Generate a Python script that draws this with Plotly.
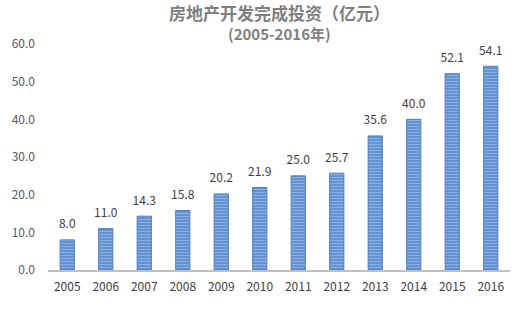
import plotly.graph_objects as go

years = ["2005", "2006", "2007", "2008", "2009", "2010", "2011", "2012", "2013", "2014", "2015", "2016"]
values = [8.0, 11.0, 14.3, 15.8, 20.2, 21.9, 25.0, 25.7, 35.6, 40.0, 52.1, 54.1]
y_ticks = [0, 10, 20, 30, 40, 50, 60]
title_main = "房地产开发完成投资（亿元）"
title_sub = "(2005-2016年)"

font_fam = "Noto Sans CJK SC, Liberation Sans, sans-serif"

fig = go.Figure()
fig.add_trace(go.Bar(
    x=years, y=values,
    marker=dict(
        color="#5a8bd0",
        line=dict(color="#4f7fc0", width=1),
        pattern=dict(shape="-", fgcolor="#c4d7f2", bgcolor="#5a8bd0", size=3, solidity=0.45, fillmode="overlay"),
    ),
    hoverinfo="skip",
))
fig.add_trace(go.Scatter(
    x=years, y=values, mode="markers+text",
    marker=dict(size=12, opacity=0),
    text=[f"{v:.1f}" for v in values],
    textposition="top center",
    textfont=dict(size=12, color="#404040", family=font_fam),
    cliponaxis=False,
    hoverinfo="skip",
))

fig.update_layout(
    width=522, height=323,
    margin=dict(l=48, r=12, t=44, b=53),
    paper_bgcolor="white", plot_bgcolor="white",
    bargap=0.63,
    showlegend=False,
    font=dict(family=font_fam, color="#595959"),
    annotations=[
        dict(text=f"<b>{title_main}</b>", x=0.5, y=1, xref="paper", yref="paper", yanchor="middle",
             xanchor="center", showarrow=False, font=dict(size=17, color="#7f7f7f"), yshift=32),
        dict(text=f"<b>{title_sub}</b>", x=0.5, y=1, xref="paper", yref="paper", yanchor="middle",
             xanchor="center", showarrow=False, font=dict(size=15, color="#7f7f7f"), yshift=11),
    ],
)
fig.update_yaxes(range=[0, 60], tickvals=y_ticks, tickformat=".1f", showgrid=False, zeroline=False,
                 showline=False, tickfont=dict(size=12, color="#595959"), ticks="", ticklabelstandoff=12,
                 automargin=False)
fig.update_xaxes(range=[-0.5, len(years) - 0.5], showline=True, linecolor="#bfbfbf", linewidth=1.5, ticks="",
                 tickfont=dict(size=12, color="#404040"), ticklabelstandoff=5, automargin=False)

fig.write_html("out.html")
